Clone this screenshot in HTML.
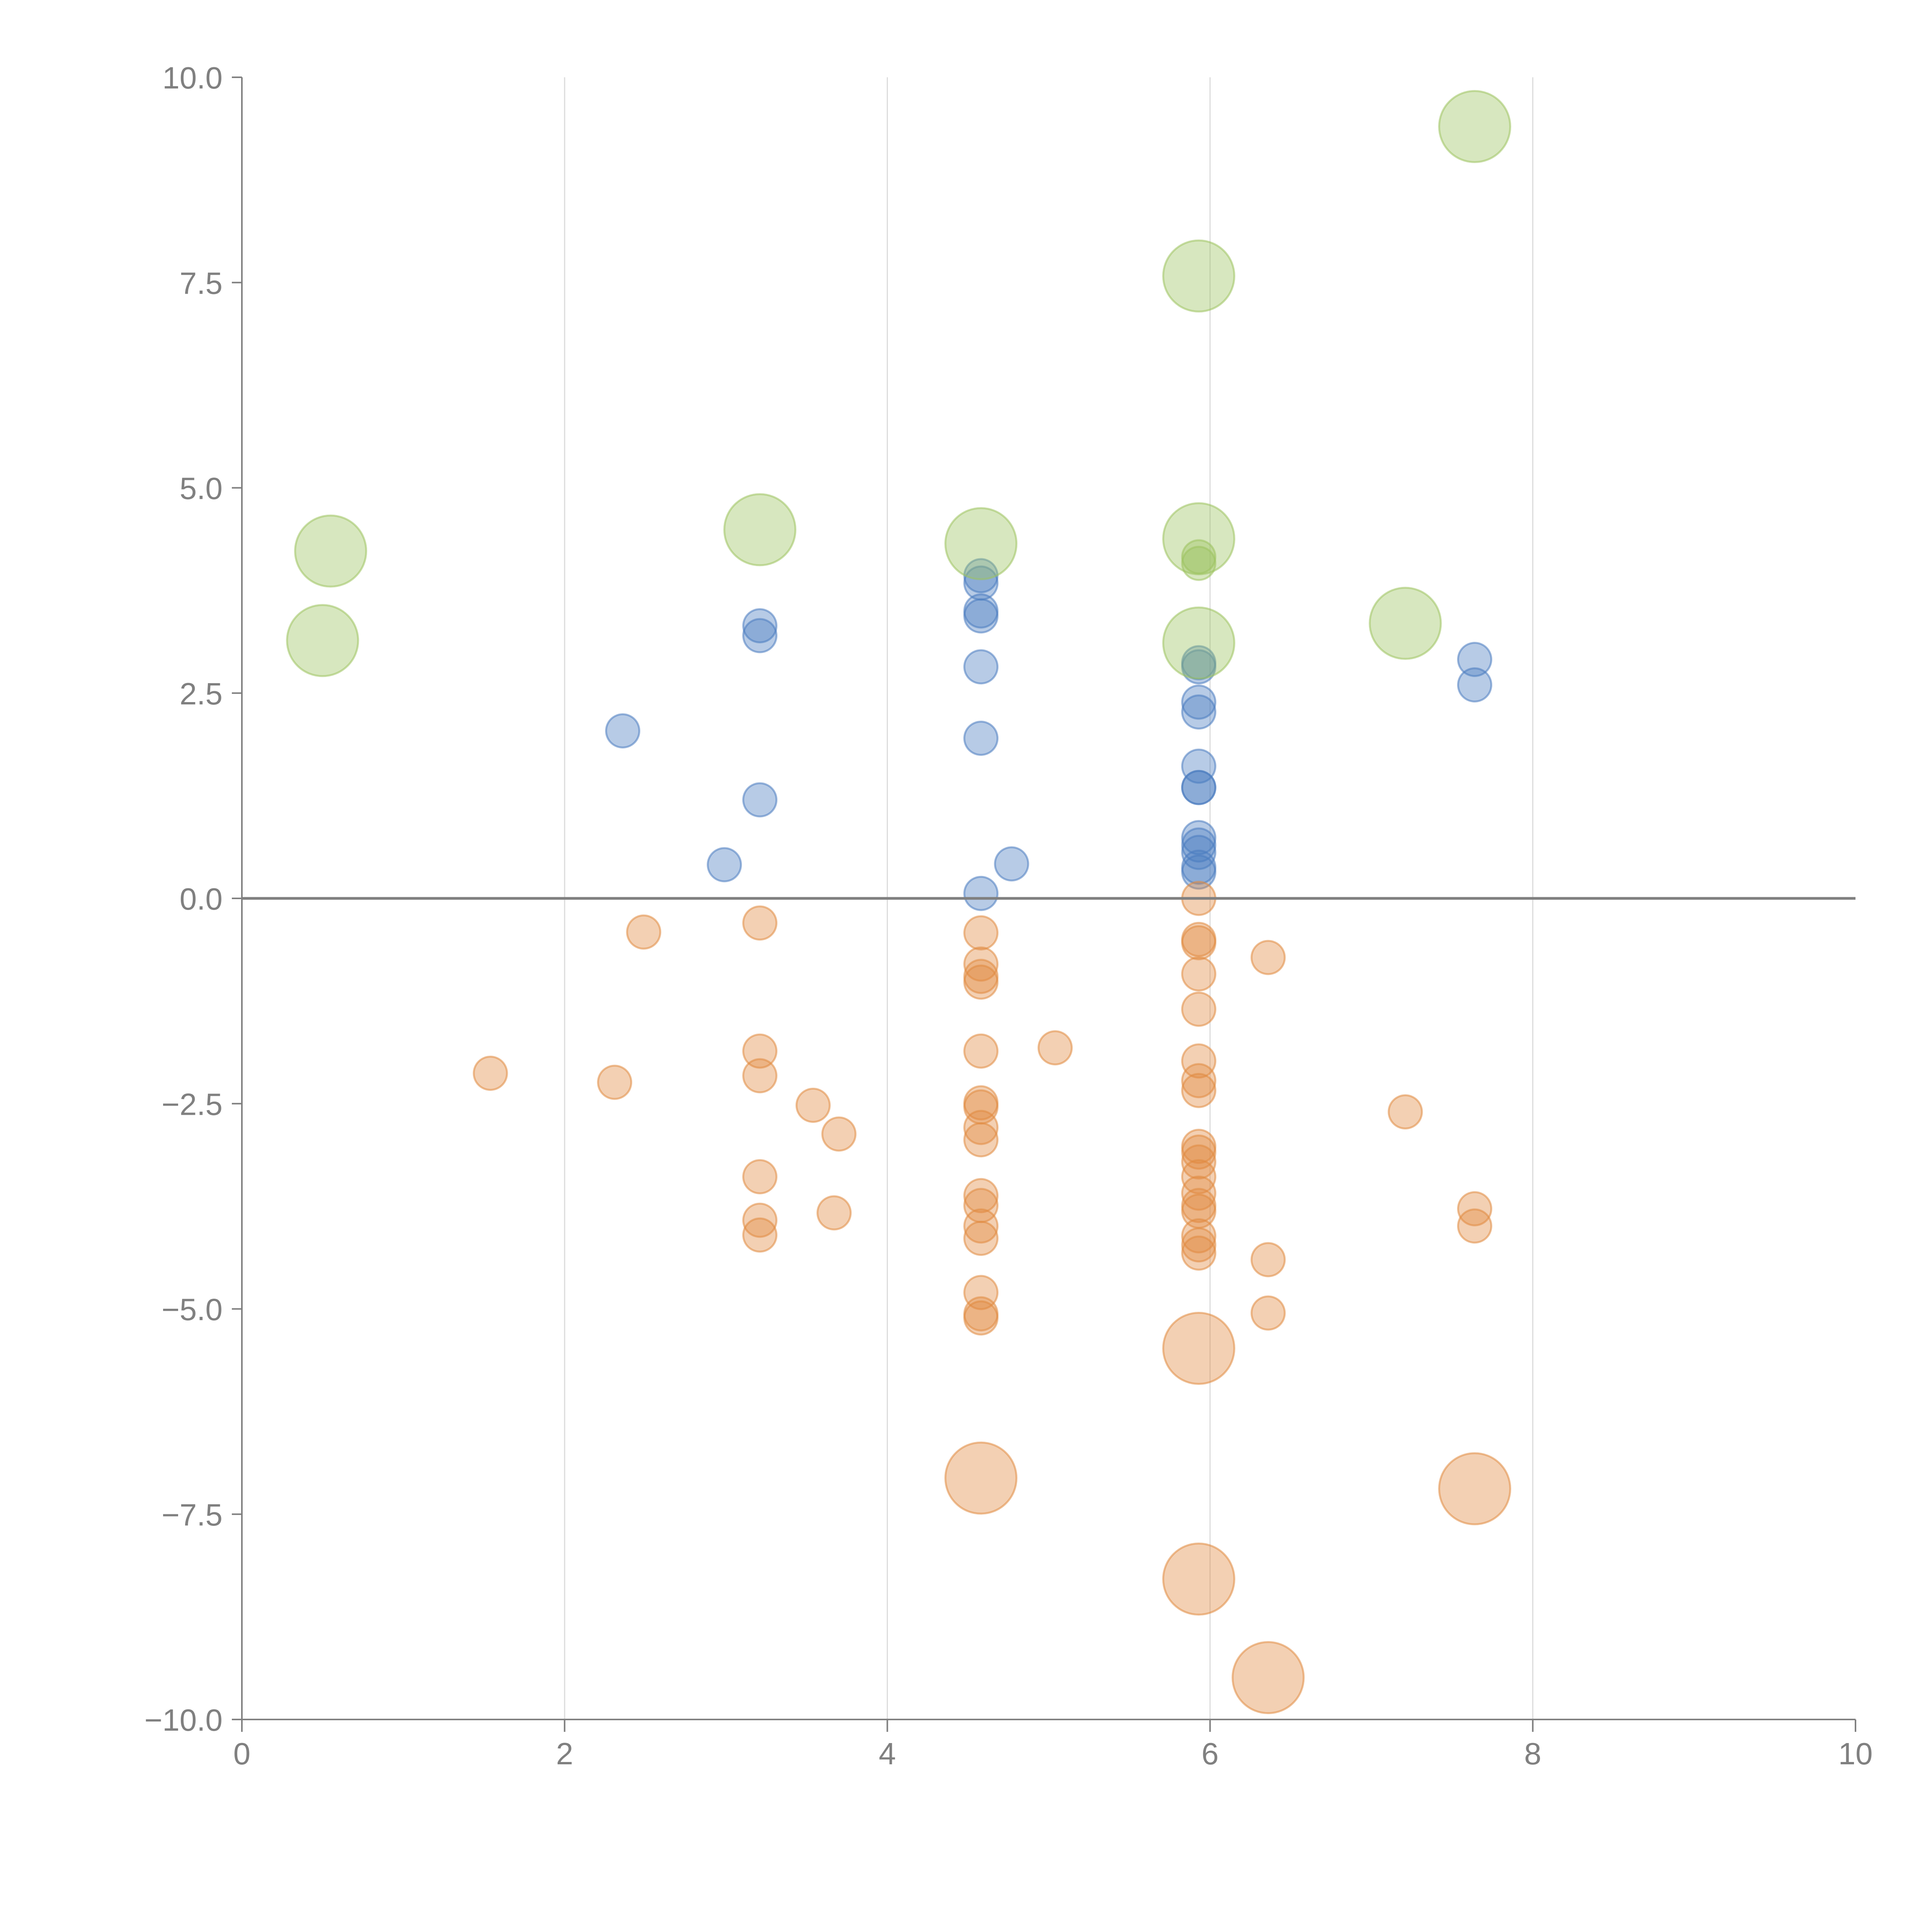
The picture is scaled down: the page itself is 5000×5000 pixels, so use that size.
<!DOCTYPE html>
<html><head><meta charset="utf-8"><style>
html,body{margin:0;padding:0;background:#fff;}
svg{display:block;font-family:"Liberation Sans",sans-serif;}
</style></head><body>
<svg id="chart" width="5000" height="5000" viewBox="0 0 5000 5000" xmlns="http://www.w3.org/2000/svg">
<g id="grid"></g>
<g id="marks"></g>
<g id="axes"></g>
</svg>
<script>
const xTicks = [0, 2, 4, 6, 8, 10];
const yTicks = [10, 7.5, 5, 2.5, 0, -2.5, -5, -7.5, -10];
const greenX = [0.55, 0.50, 3.21, 4.58, 5.93, 5.93, 5.93, 7.21, 7.64];
const greenY = [4.23, 3.14, 4.49, 4.32, 7.58, 4.38, 3.11, 3.35, 9.40];
const greenSmallX = [5.93, 5.93];
const greenSmallY = [4.16, 4.08];
const blueX = [2.36, 2.99, 3.21, 3.21, 3.21, 4.58, 4.58, 4.58, 4.58, 4.58, 4.58, 4.58, 4.77, 5.93, 5.93, 5.93, 5.93, 5.93, 5.93, 5.93, 5.93, 5.93, 5.93, 5.93, 5.93, 7.64, 7.64];
const blueY = [2.04, 0.41, 3.32, 3.20, 1.20, 3.93, 3.84, 3.50, 3.44, 2.82, 1.95, 0.06, 0.42, 2.87, 2.82, 2.39, 2.27, 1.61, 1.35, 1.35, 0.74, 0.65, 0.56, 0.38, 0.32, 2.91, 2.60];
const orangeX = [1.54, 2.31, 2.49, 3.21, 3.21, 3.21, 3.21, 3.21, 3.21, 3.54, 3.70, 3.67, 4.58, 4.58, 4.58, 4.58, 4.58, 4.58, 4.58, 4.58, 4.58, 4.58, 4.58, 4.58, 4.58, 4.58, 4.58, 4.58, 5.04, 5.93, 5.93, 5.93, 5.93, 5.93, 5.93, 5.93, 5.93, 5.93, 5.93, 5.93, 5.93, 5.93, 5.93, 5.93, 5.93, 5.93, 5.93, 6.36, 6.36, 6.36, 7.21, 7.64, 7.64];
const orangeY = [-2.13, -2.24, -0.41, -0.30, -1.86, -2.16, -3.39, -3.92, -4.10, -2.52, -2.87, -3.83, -0.42, -0.80, -0.95, -1.02, -1.86, -2.49, -2.54, -2.79, -2.94, -3.62, -3.74, -3.99, -4.14, -4.80, -5.06, -5.11, -1.82, 0.0, -0.50, -0.54, -0.92, -1.35, -1.98, -2.22, -2.34, -3.02, -3.09, -3.21, -3.39, -3.59, -3.74, -3.81, -4.11, -4.22, -4.32, -0.72, -4.40, -5.05, -2.60, -3.78, -3.99];
const orangeBigX = [4.58, 5.93, 5.93, 6.36, 7.64];
const orangeBigY = [-7.06, -5.48, -8.29, -9.49, -7.19];

const NS = "http://www.w3.org/2000/svg";
const X0 = 626, X1 = 4802, Y0 = 4450, Y1 = 200;
function sx(v){ return X0 + (v - 0) / 10 * (X1 - X0); }
function sy(v){ return Y0 - (v + 10) / 20 * (Y0 - Y1); }
function mk(tag, attrs, parent){ const e = document.createElementNS(NS, tag); for (const k in attrs) e.setAttribute(k, attrs[k]); parent.appendChild(e); return e; }

const grid = document.getElementById('grid');
const marks = document.getElementById('marks');
const axes = document.getElementById('axes');

xTicks.forEach(t => {
  if (t > 0 && t < 10) {
    const g = mk('line', {x1: sx(t), x2: sx(t), y1: Y1, y2: Y0, stroke: '#dcdcdc', 'stroke-width': 3}, grid);
    
    
  }
});

function series(xs, ys, r, fill, stroke, name){
  xs.forEach((x, i) => {
    const c = mk('circle', {cx: sx(x), cy: sy(ys[i]), r: r, fill: fill, 'fill-opacity': 0.4, stroke: stroke, 'stroke-opacity': 0.55, 'stroke-width': 5}, marks);
    
    
  });
}
series(blueX, blueY, 43, '#4a7cc0', '#4a7cc0', 'blue-point');
series(orangeX, orangeY, 43, '#e08a40', '#e08a40', 'orange-point');
series(orangeBigX, orangeBigY, 92, '#e08a40', '#e08a40', 'orange-big-point');
series(greenX, greenY, 92, '#9cc35e', '#9cc35e', 'green-point');
series(greenSmallX, greenSmallY, 43, '#9cc35e', '#9cc35e', 'green-small-point');

const zl = mk('line', {x1: X0, x2: X1, y1: sy(0), y2: sy(0), stroke: '#808080', 'stroke-width': 7}, axes);


const ya = mk('line', {x1: X0, x2: X0, y1: Y1, y2: Y0, stroke: '#808080', 'stroke-width': 4}, axes);


const xa = mk('line', {x1: X0, x2: X1, y1: Y0, y2: Y0, stroke: '#808080', 'stroke-width': 4}, axes);



yTicks.forEach(t => {
  const tk = mk('line', {x1: X0 - 26, x2: X0, y1: sy(t), y2: sy(t), stroke: '#808080', 'stroke-width': 4}, axes);
  
  
  const tx = mk('text', {x: X0 - 50, y: sy(t) + 29, 'text-anchor': 'end', 'font-size': 80, fill: '#808080'}, axes);
  tx.textContent = (t < 0 ? '\u2212' : '') + Math.abs(t).toFixed(1);
  
  
});
xTicks.forEach(t => {
  const tk = mk('line', {x1: sx(t), x2: sx(t), y1: Y0, y2: Y0 + 32, stroke: '#808080', 'stroke-width': 4}, axes);
  
  
  const tx = mk('text', {x: sx(t), y: Y0 + 116, 'text-anchor': 'middle', 'font-size': 80, fill: '#808080'}, axes);
  tx.textContent = String(t);
  
  
});
</script>
</body></html>
